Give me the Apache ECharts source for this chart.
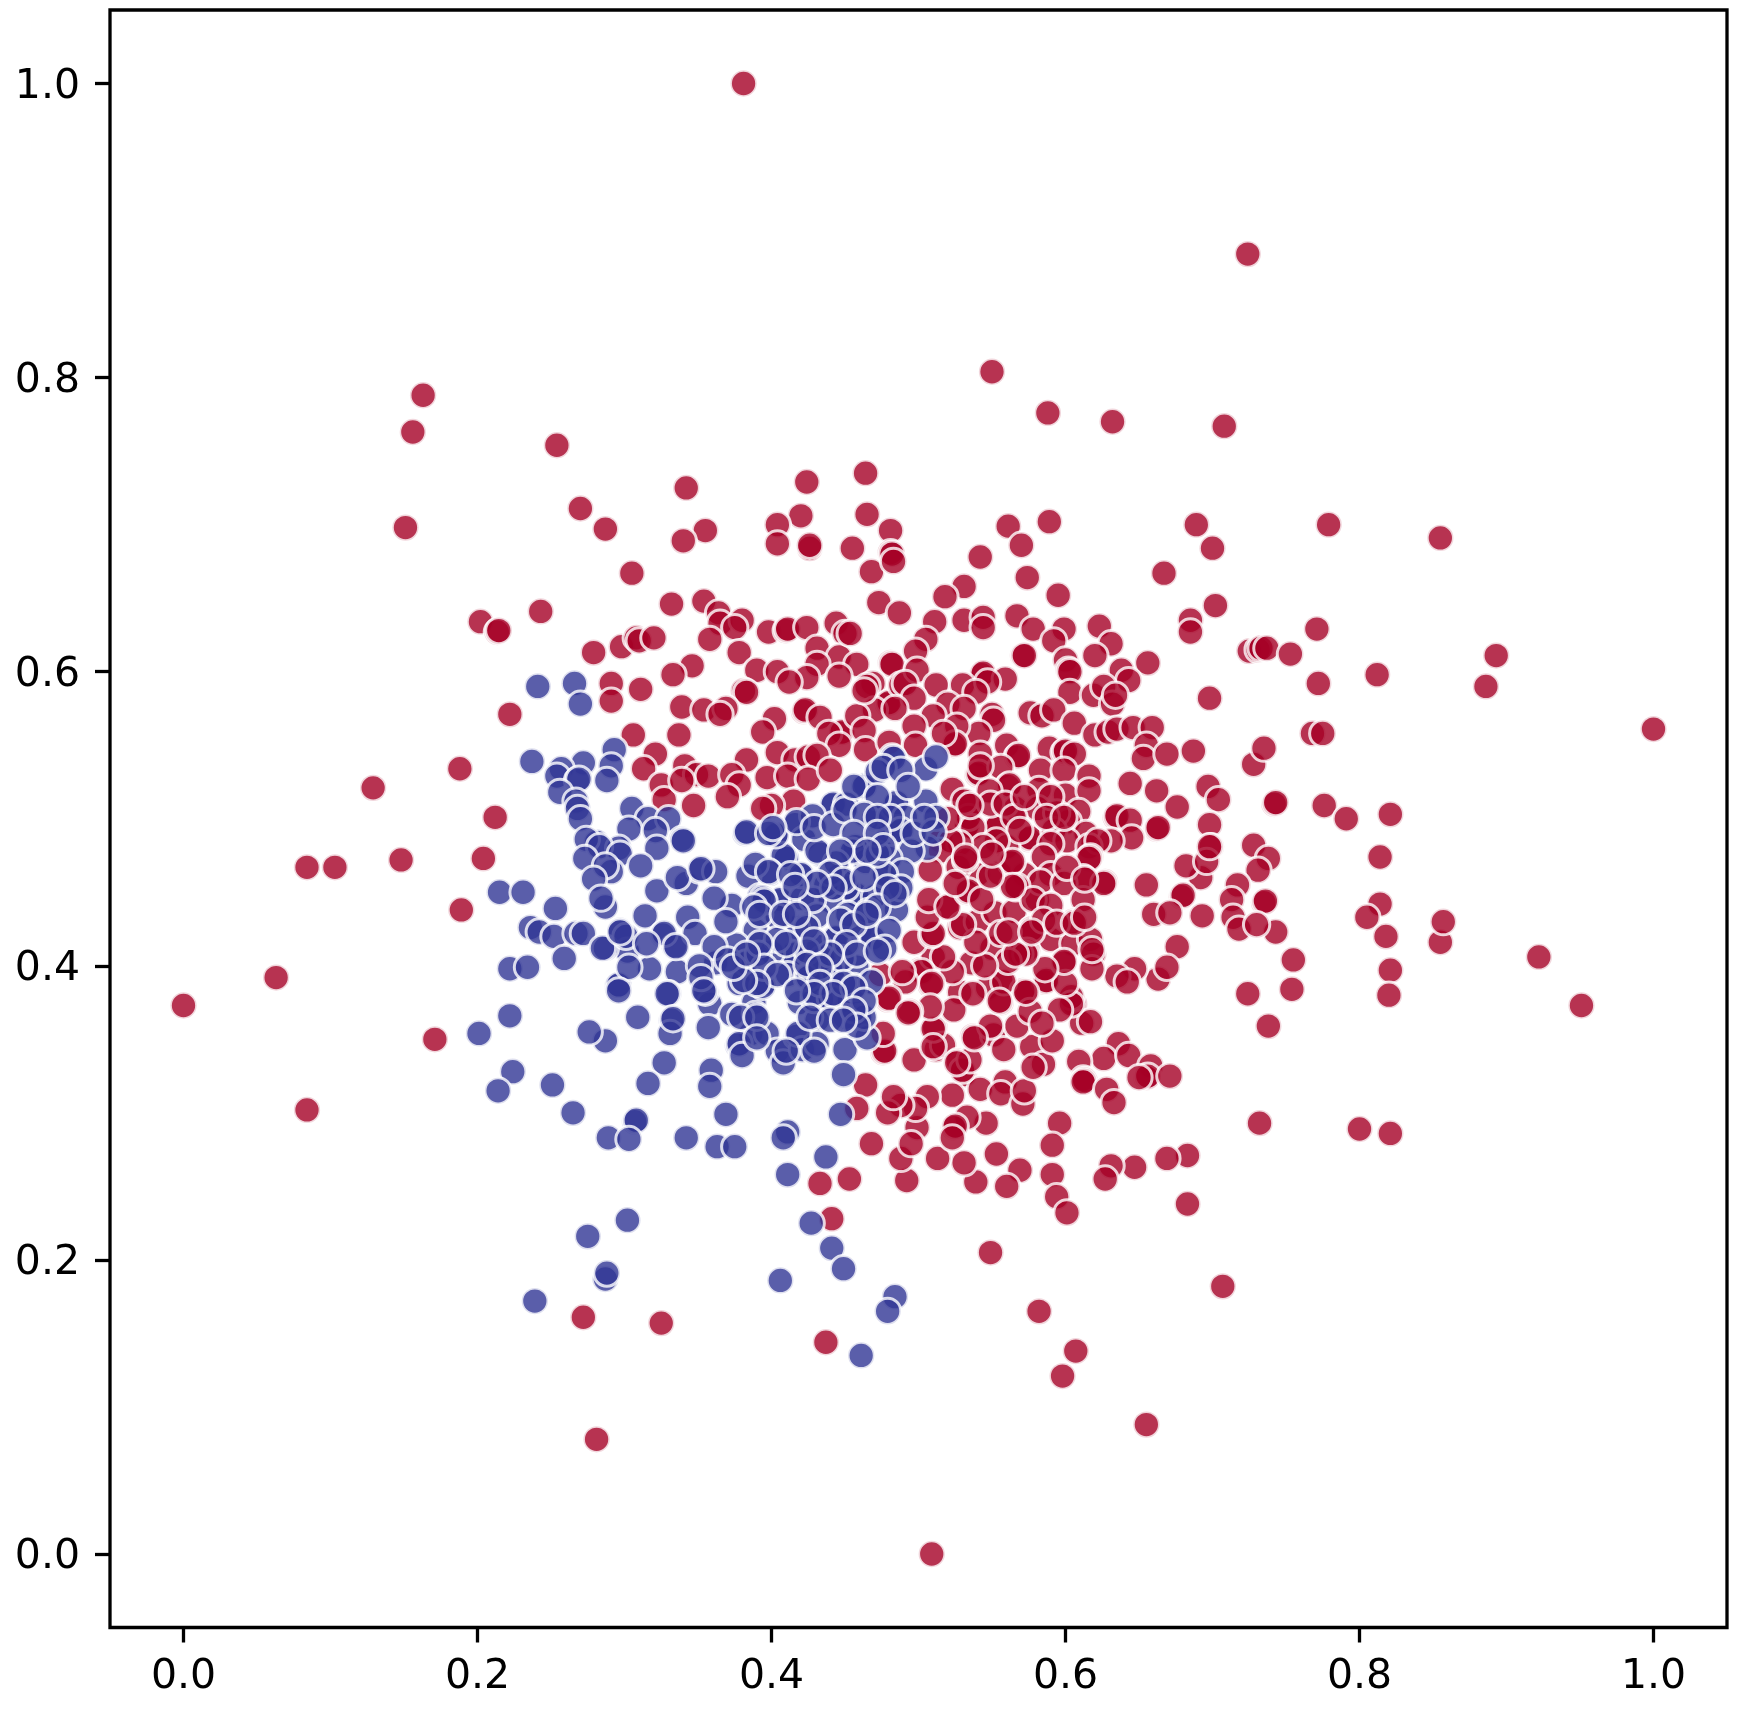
<!DOCTYPE html>
<html><head><meta charset="utf-8">
<style>html,body{margin:0;padding:0;background:#fff}#c{width:1743px;height:1716px}</style>
<script src="https://cdn.jsdelivr.net/npm/echarts@6/dist/echarts.min.js"></script>
</head><body><div id="c"></div>
<script>
const tickValues = [0, 0.2, 0.4, 0.6, 0.8, 1.0];
const redPoints = [
[0,.373],[.063,.392],[.084,.467],[.103,.467],[.084,.302],[.129,.521],[.148,.472],[.171,.35],[.189,.438],[.188,.534],[.212,.501],[.204,.473],[.222,.571],[.202,.634],[.2135,.627],[.2145,.628],[.243,.641],[.151,.698],[.156,.763],[.163,.788],[.254,.754],
[.270,.711],[.287,.697],[.342,.725],[.355,.696],[.340,.689],[.305,.667],[.332,.646],[.354,.648],[.364,.640],[.365,.633],[.380,.635],[.375,.630],[.358,.622],[.378,.613],[.279,.613],[.298,.617],[.308,.623],[.310,.621],[.320,.623],[.424,.729],[.464,.735],[.420,.706],[.404,.700],[.404,.687],[.426,.684],[.426,.686],[.465,.707],[.455,.684],[.468,.668],[.481,.696],[.481,.681],[.482,.680],[.483,.675],[.473,.647],[.487,.640],[.398,.627],[.410,.628],[.411,.629],[.424,.630],[.444,.633],[.450,.626],[.431,.616],[.446,.610],[.458,.605],[.431,.605],[.424,.596],[.446,.597],[.390,.601],[.404,.600],[.412,.593],[.381,.587],[.383,.586],[.481,.606],[.482,.605],[.469,.592],[.465,.590],[.479,.578],[.480,.579],[.470,.574],[.488,.591],[.346,.604],[.333,.598],[.291,.592],[.291,.580],[.311,.588],[.339,.576],[.354,.574],[.369,.575],[.365,.571],[.402,.568],[.422,.573],[.423,.574],[.433,.569],[.394,.559],[.447,.558],[.448,.559],[.439,.558],[.458,.570],[.463,.560],[.446,.550],[.464,.547],[.480,.552],[.306,.557],[.337,.557],[.321,.544],[.313,.534],[.325,.523],[.327,.513],[.341,.536],[.349,.530],[.357,.529],[.339,.526],[.383,.540],[.373,.530],[.378,.523],[.370,.515],[.347,.509],[.397,.528],[.404,.545],[.416,.540],[.425,.542],[.431,.543],[.411,.529],[.425,.527],[.440,.533],[.415,.512],[.400,.509],[.394,.507],
[.589,.702],[.561,.699],[.570,.686],[.542,.678],[.574,.664],[.595,.652],[.689,.700],[.700,.684],[.667,.667],[.702,.645],[.685,.635],[.685,.627],[.531,.658],[.518,.651],[.511,.634],[.505,.622],[.498,.614],[.531,.635],[.544,.637],[.544,.630],[.567,.638],[.578,.629],[.599,.629],[.592,.621],[.571,.611],[.572,.611],[.623,.631],[.631,.619],[.620,.611],[.600,.608],[.602,.601],[.603,.600],[.656,.606],[.638,.601],[.643,.594],[.603,.586],[.619,.584],[.626,.590],[.632,.578],[.634,.584],[.576,.572],[.584,.570],[.592,.574],[.606,.565],[.620,.557],[.629,.559],[.635,.561],[.646,.562],[.659,.562],[.655,.550],[.653,.541],[.669,.544],[.687,.546],[.698,.582],[.725,.614],[.728,.537],[.644,.524],[.662,.519],[.676,.508],[.697,.522],[.704,.513],[.698,.496],[.699,.481],[.662,.493],[.663,.494],[.634,.501],[.635,.502],[.644,.499],[.645,.487],
[.4535,.626],[.499,.601],[.491,.592],[.463,.587],[.512,.591],[.543,.598],[.544,.599],[.559,.595],[.530,.591],[.547,.593],[.539,.586],[.497,.582],[.520,.578],[.531,.575],[.484,.575],[.550,.571],[.551,.567],[.510,.570],[.497,.563],[.541,.558],[.526,.563],[.498,.550],[.524,.550],[.525,.551],[.517,.558],[.542,.544],[.560,.550],[.567,.542],[.568,.543],[.589,.548],[.599,.545],[.600,.546],[.606,.544],[.540,.530],[.541,.531],[.583,.533],[.599,.533],[.616,.529],[.556,.535],[.561,.522],[.562,.523],[.582,.520],[.600,.516],[.616,.519],[.523,.520],[.536,.509],[.548,.519],[.532,.494],[.533,.495],[.534,.501],[.553,.494],[.554,.495],[.566,.507],[.581,.507],[.609,.505],[.602,.498],[.594,.504],[.575,.486],[.576,.487],[.592,.492],[.614,.490],[.601,.485],[.631,.485],[.616,.481],[.560,.481],[.515,.485],
[.531,.512],[.537,.494],[.549,.510],[.559,.510],[.565,.501],[.569,.492],[.572,.515],[.590,.515],[.587,.501],[.599,.501],[.622,.485],[.590,.483],[.553,.485],[.544,.481],[.528,.483],[.522,.485],[.585,.474],[.519,.440],[.581,.445],[.501,.397],[.510,.406],[.528,.426],[.511,.358],[.531,.326],[.574,.383],[.606,.374],[.556,.390],[.540,.462],[.555,.463],[.572,.462],[.590,.462],[.540,.430],[.552,.436],[.565,.437],[.550,.412],[.536,.402],[.590,.418],[.605,.415],[.547,.385],[.528,.382],[.515,.478],[.520,.500],[.527,.467],
[.771,.629],[.731,.615],[.733,.616],[.737,.616],[.753,.612],[.812,.598],[.772,.592],[.768,.558],[.775,.558],[.735,.548],[.742,.510],[.743,.511],[.776,.509],[.791,.500],[.821,.503],[.728,.482],[.738,.473],[.731,.465],[.692,.460],[.682,.468],[.655,.455],[.717,.455],[.713,.445],[.735,.443],[.736,.444],[.743,.423],[.714,.433],[.718,.425],[.730,.428],[.814,.474],[.814,.442],[.805,.433],[.818,.420],[.821,.397],[.820,.380],[.755,.404],[.754,.384],[.724,.381],[.676,.413],[.679,.447],[.680,.448],[.660,.435],[.671,.436],[.693,.434],[.663,.391],[.669,.399],[.647,.398],[.635,.393],[.642,.389],[.696,.471],[.698,.481],
[.563,.470],[.564,.471],[.617,.474],[.616,.473],[.612,.460],[.627,.457],[.626,.456],[.583,.457],[.566,.453],[.567,.454],[.578,.445],[.599,.456],[.612,.445],[.590,.441],[.576,.424],[.577,.425],[.605,.430],[.586,.389],[.587,.390],[.617,.418],[.574,.410],[.599,.402],[.619,.408],[.618,.398],[.556,.422],[.585,.431],[.569,.408],[.604,.379],[.571,.383],
[.636,.347],[.626,.337],[.643,.339],[.658,.332],[.655,.324],[.656,.325],[.650,.324],[.671,.325],[.609,.335],[.612,.323],[.613,.322],[.612,.321],[.628,.316],[.633,.307],[.596,.293],[.591,.278],[.591,.258],[.594,.243],[.601,.232],[.549,.205],[.569,.261],[.560,.250],[.553,.272],[.539,.253],[.531,.266],[.513,.269],[.492,.254],[.488,.269],[.523,.312],[.506,.311],[.542,.316],[.559,.321],[.556,.313],[.571,.306],[.572,.315],[.546,.293],[.533,.297],[.524,.290],[.525,.291],[.523,.283],[.499,.290],[.495,.279],[.498,.303],[.488,.305],[.497,.336],[.512,.343],[.517,.346],[.527,.335],[.530,.329],[.535,.336],[.537,.352],[.551,.353],[.558,.343],[.577,.345],[.585,.333],[.578,.331],[.591,.349],[.567,.359],[.611,.361],[.617,.362],[.604,.374],[.596,.370],[.576,.369],[.584,.361],[.556,.375],[.549,.359],[.524,.370],[.510,.357],[.537,.381],[.558,.389],[.573,.382],[.600,.388],[.599,.403],[.586,.398],[.573,.408],[.561,.403],[.566,.408],[.545,.400],[.523,.396],[.517,.406],[.502,.396],[.508,.387],[.509,.388],[.491,.389],[.508,.372],[.494,.369],[.561,.423],[.577,.423],[.594,.429],[.606,.429],[.613,.433],[.618,.411],[.497,.416],[.509,.421],[.510,.422],[.539,.416],[.530,.428],[.506,.433],[.507,.445],[.520,.440],[.533,.450],[.534,.451],[.543,.445],[.564,.454],[.549,.461],[.601,.467],[.613,.459],[.532,.472],[.550,.476],[.508,.465],[.525,.456],
[.474,.394],[.479,.377],[.480,.378],[.476,.341],[.477,.342],[.464,.319],[.458,.303],[.479,.300],[.483,.311],[.468,.279],[.433,.252],[.453,.255],[.441,.228],[.538,.351],[.526,.334],[.476,.354],[.510,.345],[.493,.368],[.555,.376],[.489,.396],[.542,.536],[.535,.509],[.532,.474],
[.724,.884],[.550,.804],[.588,.776],[.632,.770],[.708,.767],[.779,.700],[.855,.691],[.893,.611],[.886,.590],[1.0,.561],[.922,.406],[.951,.373],[.855,.416],[.857,.430],[.821,.286],[.800,.289],[.732,.293],[.707,.182],[.655,.088],[.607,.138],[.598,.121],[.582,.165],[.509,0],[.437,.144],[.281,.078],[.272,.161],[.325,.157],[.381,1.0],[.683,.238],[.738,.359],[.683,.271],[.669,.269],[.647,.263],[.631,.264],[.627,.255]
];
const bluePoints = [
[.241,.590],[.266,.592],[.270,.578],[.237,.539],[.293,.547],[.291,.536],[.272,.538],[.257,.534],[.254,.529],[.268,.526],[.269,.527],[.288,.526],[.256,.518],[.267,.512],[.268,.507],[.270,.500],[.305,.507],[.316,.500],[.330,.500],[.303,.493],[.321,.492],[.339,.486],[.340,.485],[.382,.490],[.383,.491],[.416,.496],[.441,.509],[.442,.510],[.464,.523],[.463,.522],[.482,.542],[.483,.541],[.451,.510],[.403,.488],[.422,.486],[.281,.484],[.274,.486],[.296,.480],[.470,.500],[.483,.508],[.480,.490],[.428,.502],
[.322,.480],[.283,.481],[.297,.476],[.311,.468],[.291,.464],[.287,.440],[.322,.451],[.342,.456],[.351,.465],[.362,.464],[.336,.460],[.314,.434],[.343,.433],[.326,.421],[.297,.424],[.302,.410],[.287,.412],[.334,.413],[.348,.422],[.317,.398],[.336,.396],[.295,.386],[.296,.387],[.330,.381],[.309,.365],[.332,.363],[.331,.354],[.287,.349],[.327,.334],[.359,.329],[.316,.320],[.358,.318],
[.373,.441],[.361,.446],[.409,.474],[.410,.473],[.408,.475],[.403,.489],[.417,.498],[.505,.534],[.512,.542],[.485,.511],[.505,.512],[.491,.501],[.512,.501],[.487,.491],[.488,.492],[.456,.480],[.457,.481],[.506,.480],[.495,.478],[.480,.473],[.464,.471],[.476,.461],[.489,.464],[.421,.461],[.399,.463],[.384,.461],[.389,.469],[.457,.447],[.458,.448],[.470,.447],[.485,.438],[.446,.461],[.451,.453],[.440,.444],[.405,.444],[.406,.445],[.421,.446],[.392,.447],[.431,.434],[.417,.426],[.404,.433],[.389,.424],[.443,.419],[.460,.424],[.468,.418],[.469,.419],[.480,.424],[.477,.412],[.432,.413],[.414,.407],[.415,.408],[.400,.409],[.376,.414],[.362,.402],[.361,.413],[.382,.401],[.378,.388],[.356,.381],[.358,.374],[.388,.375],[.395,.388],[.411,.394],[.424,.392],[.442,.393],[.443,.394],[.458,.399],[.419,.375],[.434,.377],[.452,.375],[.453,.376],[.460,.365],[.431,.363],[.373,.367],[.357,.358],[.386,.354],[.377,.346],[.378,.347],[.397,.354],[.404,.342],[.408,.334],[.417,.352],[.421,.343],[.431,.347],[.450,.343],[.465,.351],[.449,.326],
[.273,.473],[.287,.468],[.279,.459],[.284,.446],[.352,.466],[.215,.450],[.231,.450],[.253,.439],[.236,.426],[.242,.423],[.252,.420],[.267,.422],[.272,.422],[.259,.405],[.285,.412],[.301,.420],[.297,.423],[.327,.422],[.315,.415],[.335,.413],[.303,.399],[.222,.398],[.234,.399],[.296,.383],[.329,.381],[.222,.366],[.201,.354],[.276,.355],[.333,.364],[.224,.328],[.214,.315],[.251,.319],[.265,.300],[.369,.299],[.307,.294],[.308,.295],[.289,.283],[.303,.282],[.342,.283],[.363,.277],[.375,.277],[.411,.287],[.408,.283],[.437,.270],[.411,.258],[.447,.299],[.302,.227],[.275,.216],[.427,.225],[.441,.208],[.449,.194],[.406,.186],[.484,.175],[.479,.165],[.461,.135],[.287,.187],[.288,.191],[.239,.172],
[.380,.339],[.418,.354],[.355,.382],[.389,.367],[.394,.386],[.429,.377],[.440,.378],[.463,.365],[.456,.386],[.450,.365],[.383,.402],[.398,.464],[.420,.462],[.433,.476],[.455,.478],[.477,.462],[.394,.446],[.444,.419],[.472,.476],[.447,.458],[.425,.392],[.413,.462],[.437,.455],[.428,.445],[.452,.435],[.466,.437],[.444,.470],[.435,.405],[.448,.405],[.404,.418],[.468,.389],[.369,.430],[.351,.400],[.391,.408],
[.398,.490],[.401,.494],[.431,.478],[.429,.494],[.442,.496],[.450,.506],[.456,.522],[.472,.532],[.476,.535],[.488,.533],[.493,.522],[.472,.515],[.463,.503],[.481,.501],[.472,.501],[.456,.490],[.472,.490],[.476,.481],[.497,.490],[.510,.491],[.504,.501],[.465,.478],[.447,.478],[.440,.463],[.449,.458],[.463,.460],[.488,.453],[.479,.453],[.472,.440],[.484,.449],[.442,.453],[.431,.456],[.416,.454],[.395,.444],[.388,.440],[.392,.435],[.408,.435],[.424,.426],[.417,.435],[.447,.431],[.456,.428],[.465,.435],[.451,.415],[.458,.408],[.472,.410],[.440,.408],[.424,.410],[.429,.417],[.410,.415],[.392,.415],[.395,.399],[.404,.394],[.424,.401],[.433,.399],[.433,.388],[.449,.388],[.456,.385],[.463,.376],[.442,.381],[.429,.381],[.417,.383],[.390,.388],[.381,.390],[.370,.404],[.374,.399],[.352,.392],[.354,.383],[.383,.408],[.379,.365],[.390,.365],[.426,.365],[.440,.363],[.456,.370],[.458,.359],[.449,.363],[.390,.351],[.410,.342],[.429,.342]
];
const axisFont = {color:'#000',fontFamily:'DejaVu Sans',fontSize:41};
const tickStyle = {show:true,length:15,customValues:tickValues,lineStyle:{color:'#000',width:3.3}};
const hiddenLine = {show:false,onZero:false};
const chart = echarts.init(document.getElementById('c'),null,{renderer:'canvas'});
const mk = (data,color)=>({type:'scatter',data,symbolSize:26.3,animation:false,silent:true,
  itemStyle:{color,opacity:0.8,borderColor:'#fff',borderWidth:3}});
chart.setOption({
  animation:false,backgroundColor:'#fff',
  grid:{left:110,right:16,top:10,bottom:88.5,show:true,borderColor:'#000',borderWidth:3.3,backgroundColor:'transparent'},
  xAxis:{type:'value',min:-0.05,max:1.05,splitLine:{show:false},axisLine:hiddenLine,axisTick:tickStyle,
    axisLabel:{...axisFont,margin:29,customValues:tickValues,formatter:v=>v.toFixed(1)}},
  yAxis:{type:'value',min:-0.05,max:1.05,splitLine:{show:false},axisLine:hiddenLine,axisTick:tickStyle,
    axisLabel:{...axisFont,margin:30,verticalAlign:'top',lineHeight:7,customValues:tickValues,formatter:v=>v.toFixed(1)}},
  series:[mk(redPoints,'#a50026'),mk(bluePoints,'#313695')]
});
</script></body></html>
